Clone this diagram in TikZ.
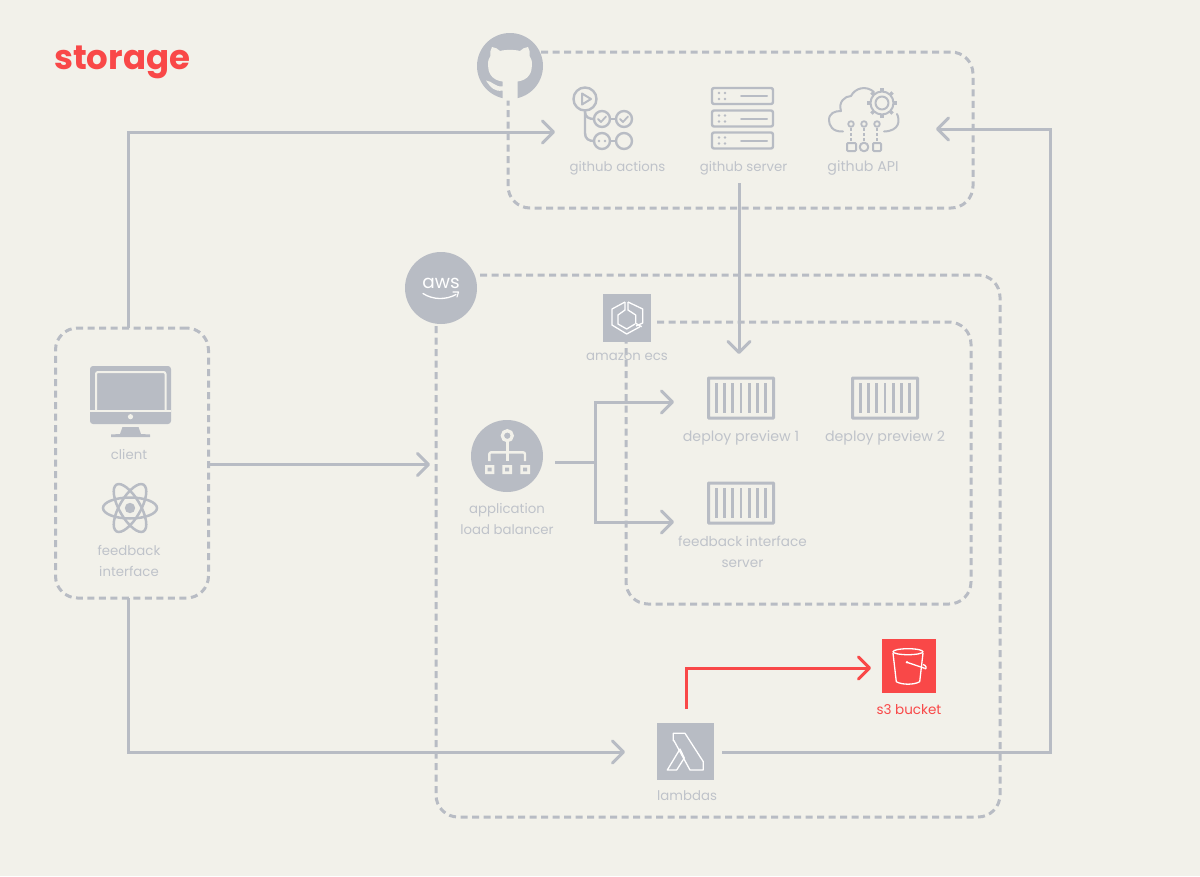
\documentclass[tikz,border=0pt]{standalone}
\usepackage{fontspec}
\setmainfont{Poppins}
\newfontfamily\titlefont{Poppins Bold}
\usetikzlibrary{arrows.meta,calc}
\definecolor{bgc}{HTML}{F2F1EA}
\definecolor{gline}{HTML}{B8BCC4}
\definecolor{gtext}{HTML}{BFC3CA}
\definecolor{redc}{HTML}{F94848}
\tikzset{
  x=1pt,y=-1pt,
  conn/.style={draw=gline,line width=3pt,line join=miter,-{Straight Barb[length=11pt,width=22pt,line width=3pt,round]}},
  plainconn/.style={draw=gline,line width=3pt},
  redconn/.style={draw=redc,line width=3pt,-{Straight Barb[length=11pt,width=22pt,line width=3pt,round]}},
  dashbox/.style={draw=gline,line width=3pt,dash pattern=on 7pt off 4.5pt},
  lab/.style={text=gtext,font=\fontsize{13.3}{21}\selectfont,align=center,inner sep=0pt,anchor=base},
  widelab/.style={lab,font=\fontsize{14.2}{21}\selectfont},
  redlab/.style={text=redc,font=\fontsize{13.5}{21}\selectfont,align=center,inner sep=0pt,anchor=base},
  anchorbox/.style={inner sep=0pt,outer sep=0pt,minimum width=#1},
  ic/.style={draw=gline,line width=2.4pt,line cap=round,line join=round},
  wic/.style={draw=white,line width=1.3pt,line join=round},
}
\begin{document}
\begin{tikzpicture}
\useasboundingbox (0,0) rectangle (1200,876);
\fill[bgc] (0,0) rectangle (1200,876);

% dashed groups
\draw[dashbox,rounded corners=22pt] (541,52) -- (973,52) -- (973,208) -- (508,208) -- (508,90);
\draw[dashbox,rounded corners=22pt] (480,275) -- (1000,275) -- (1000,817) -- (436,817) -- (436,325);
\draw[dashbox,rounded corners=22pt] (657,322) -- (971,322) -- (971,604) -- (626,604) -- (626,342);
\node[dashbox,rounded corners=22pt,minimum width=153pt,minimum height=270pt,inner sep=0pt,outer sep=0pt,anchor=north west] (clientbox) at (55.5,328) {};

% title
\node[anchor=base west,text=redc,font=\titlefont\fontsize{34}{34}\selectfont,inner sep=0pt] (title) at (54,69) {storage};

% named anchors
\coordinate (clientT) at ([xshift=-4pt]clientbox.north);
\coordinate (clientB) at ([xshift=-4pt]clientbox.south);
\coordinate (actionsIn) at (555,132);
\coordinate (albIn) at (430,464.5);
\coordinate (lambdaIn) at (625,752);
\coordinate (apiIn) at (936,129);
\coordinate (ecsIn) at (739,354);
\coordinate (albOut) at (555,462);
\coordinate (junction) at (595,462);
\coordinate (previewIn) at (674,402);
\coordinate (feedbackIn) at (674,522);
\coordinate (serverOut) at (739,183);
\coordinate (lambdaOut) at (722,752);
\coordinate (lambdaUp) at (686.5,709);
\coordinate (s3In) at (871,668);
\coordinate (clientR) at (210,464.5);
\coordinate (turn) at (1050,752);

% connectors
\draw[conn] (clientT) |- (actionsIn);
\draw[conn] (clientR) -- (albIn);
\draw[conn] (clientB) |- (lambdaIn);
\draw[plainconn] (albOut) -- (junction);
\draw[conn] (junction) |- (previewIn);
\draw[conn] (junction) |- (feedbackIn);
\draw[conn] (serverOut) -- (ecsIn);
\draw[conn] (lambdaOut) -| (turn |- apiIn) -- (apiIn);
\draw[redconn] (lambdaUp) |- (s3In);

% github mark
\node[circle,fill=gline,minimum size=66pt,inner sep=0pt] (github) at (510,66) {};
\fill[bgc] (502.5,100.5) -- (502.5,90.5) .. controls (495,92) and (491,88) .. (486,80.5)
  .. controls (492,81) and (495,87) .. (502.5,86.5) -- (502.5,81.5)
  .. controls (491,80) and (488,72) .. (488,65) .. controls (488,60) and (489,58) .. (490.5,56)
  .. controls (490,53) and (490,50) .. (492,47) .. controls (495,47) and (498,49) .. (500,51)
  .. controls (505,49.5) and (515,49.5) .. (520,51) .. controls (522,49) and (525,47) .. (528,47)
  .. controls (530,50) and (530,53) .. (529.5,56) .. controls (531,58) and (532,60) .. (532,65)
  .. controls (532,72) and (529,80) .. (517.5,81.5) -- (517.5,100.5) -- cycle;

% github actions icon
\node[anchorbox=60pt,minimum height=62pt] (actions) at (603,118) {};
\draw[ic] (585,99) circle (11.5);
\draw[ic,line width=2pt] (582,93.5) -- (591,99) -- (582,104.5) -- cycle;
\draw[ic] (602,119) circle (8) (624,119) circle (8) (602,141) circle (8) (624,141) circle (8);
\draw[ic] (610,119) -- (616,119) (610,141) -- (616,141);
\draw[ic] (585,110.5) -- (585,133) .. controls (585,139) and (589,141) .. (594,141);
\draw[ic] (585,112) .. controls (585,117) and (589,119) .. (594,119);
\draw[ic,line width=1.8pt] (598,119) -- (601,122) -- (606,116.5) (620,119) -- (623,122) -- (628,116.5);
\fill[gline] (599,141) circle (1.4) (605,141) circle (1.4);
\node[lab] (actionsL) at (617.5,171) {github actions};

% github server icon
\node[anchorbox=62pt,minimum height=62pt] (server) at (742.5,118) {};
\foreach \y in {88,110.5,132.5}{
  \draw[ic,rounded corners=2pt] (712,\y) rectangle (773,\y+16);
  \fill[gline] (719,\y+5) circle (1.3) (725,\y+5) circle (1.3) (719,\y+11) circle (1.3) (725,\y+11) circle (1.3);
  \draw[ic,line width=2pt] (741,\y+8) -- (767,\y+8);
}
\node[lab] (serverL) at (743.5,171) {github server};

% github API icon
\node[anchorbox=72pt,minimum height=62pt] (api) at (864,118) {};
\draw[ic,line width=2pt] (843,131.5) .. controls (832,132) and (829,125) .. (829,120)
  .. controls (829,113) and (835,111) .. (841,111)
  .. controls (838,102) and (845,96) .. (851,96)
  .. controls (855,88) and (866,85) .. (874,92);
\draw[ic,line width=2pt] (897,114) .. controls (900,120) and (900,131) .. (884,131.5);
\draw[ic,line width=2pt] (882,103) circle (6.5);
\foreach \a in {0,45,...,315}{
  \draw[ic,line width=3.5pt,line cap=butt] (882,103) ++(\a:11.5) -- ++(\a:3.5);
}
\draw[ic,line width=2pt] (882,103) circle (11.5);
\foreach \x in {851,864,877}{
  \draw[ic,line width=1.8pt] (\x,124) circle (2.8);
  \draw[ic,line width=1.8pt,line cap=butt,dash pattern=on 2.5pt off 2.5pt] (\x,128) -- (\x,141);
}
\draw[ic,line width=2pt,rounded corners=1pt] (847,143) rectangle (856,151);
\draw[ic,line width=2pt] (864,147) circle (4.3);
\draw[ic,line width=2pt,rounded corners=1pt] (873,143) rectangle (881,151);
\node[widelab] (apiL) at (863,171) {github API};

% aws
\node[circle,fill=gline,minimum size=72pt,inner sep=0pt] (aws) at (441,288) {};
\node[text=white,font=\fontsize{18.5}{19}\selectfont,inner sep=0pt,anchor=base] (awsL) at (441,288.5) {aws};
\draw[white,line width=1.3pt,line cap=round] (423,293.5) .. controls (433,300) and (446,300) .. (456,294.5);
\draw[white,line width=1.1pt,line cap=round,line join=round] (453,292) -- (458.5,292) -- (457,297);

% ecs
\node[fill=gline,minimum size=48pt,inner sep=0pt] (ecs) at (627,318) {};
\draw[wic] (625,302) -- (612,309) -- (612,325) -- (626.7,334) -- (640,326.7);
\draw[wic] (628,302) -- (642.7,309) -- (642.7,323) -- (636,326);
\draw[wic] (628,302) -- (628,310) -- (635.7,315) -- (635.7,323.3) -- (641.7,326.7);
\draw[wic] (625,302) -- (625,310) -- (618,315) -- (618,324) -- (626.7,329) -- (635,324);
\node[lab] (ecsL) at (627,360) {amazon ecs};

% containers
\newcommand{\containerIcon}[3]{%
  \node[draw=gline,line width=3pt,rounded corners=0.5pt,minimum width=65pt,minimum height=40pt,inner sep=0pt] (#1) at (#2,#3) {};
  \foreach \d in {-24.5,-16.4,-8.2,0,8.2,16.4,24.5}{\draw[gline,line width=2.8pt] (#2+\d,#3-15) -- (#2+\d,#3+15);}
}
\containerIcon{prevA}{741}{398}
\containerIcon{prevB}{885}{398}
\containerIcon{feedSrv}{741}{503}
\node[widelab] (prevAL) at (741,441) {deploy preview 1};
\node[widelab] (prevBL) at (885,441) {deploy preview 2};
\node[lab,font=\fontsize{13.6}{21}\selectfont] (feedSrvL) at (742.5,546) {feedback interface};
\node[lab,font=\fontsize{13.6}{21}\selectfont] (feedSrvM) at (742.5,567) {server};

% load balancer
\node[circle,fill=gline,minimum size=72pt,inner sep=0pt] (alb) at (507,456) {};
\draw[bgc,line width=3.2pt] (507.3,435.7) circle (5);
\draw[bgc,line width=2.4pt] (507.3,441) -- (507.3,460.5);
\draw[bgc,line width=2.4pt,rounded corners=2pt] (489.3,461) -- (489.3,452.3) -- (525,452.3) -- (525,461);
\fill[bgc] (485,465) rectangle (494.3,474) (502.3,465) rectangle (512,474) (520.3,465) rectangle (530,474);
\fill[gline] (487.7,467.7) rectangle (491.6,471.3) (505.2,467.7) rectangle (509.1,471.3) (523.2,467.7) rectangle (527.1,471.3);
\node[lab] (albL) at (507,513) {application};
\node[lab] (albM) at (507,534) {load balancer};

% monitor
\node[anchorbox=81pt,minimum height=71pt] (monitor) at (130.5,401.5) {};
\fill[gline,rounded corners=3pt] (90,366) rectangle (171,424);
\draw[bgc,line width=2pt,rounded corners=2pt] (96,411) -- (96,372) -- (165.5,372) -- (165.5,411);
\draw[bgc,line width=2pt] (90,410.5) -- (171,410.5);
\fill[bgc] (130.5,416.7) circle (2.6);
\fill[gline] (122.5,427) -- (138.5,427) -- (141,434) -- (150,434.5) -- (150,437) -- (111,437) -- (111,434.5) -- (120,434) -- cycle;
\node[lab] (clientL) at (129,459) {client};

% react
\node[anchorbox=56pt,minimum height=52pt] (react) at (130,508) {};
\fill[gline] (130,508) circle (5.2);
\foreach \a in {0,60,120}{\draw[gline,line width=2.5pt,rotate around={\a:(130,508)}] (130,508) ellipse (27 and 10.5);}
\node[lab] (reactL) at (129,555) {feedback};
\node[lab] (reactM) at (129,576) {interface};

% lambda
\node[fill=gline,minimum size=57pt,inner sep=0pt] (lambda) at (685.5,751.5) {};
\draw[wic] (673.3,733.3) -- (685,733.3) -- (703.3,761.7) -- (703.3,770) -- (690,770) -- (674,740.7) -- (673.3,740.7) -- cycle;
\draw[wic] (680,749) -- (667.3,770) -- (676.7,770) -- (684.3,758) -- cycle;
\node[lab] (lambdaL) at (687,800.5) {lambdas};

% s3
\node[fill=redc,minimum size=54pt,inner sep=0pt] (s3) at (909,666) {};
\draw[wic] (908,651.7) ellipse (15 and 3);
\draw[wic] (893,653) -- (896.3,681.7) .. controls (902,685) and (914,685) .. (919.7,681.7) -- (923,653);
\draw[wic] (907,662.3) -- (924.7,668.3);
\draw[wic] (923,664.5) .. controls (926.5,665) and (927,669) .. (924.7,669);
\fill[white] (907,662.3) circle (1.4);
\node[redlab] (s3L) at (909,714) {s3 bucket};
\end{tikzpicture}
\end{document}
